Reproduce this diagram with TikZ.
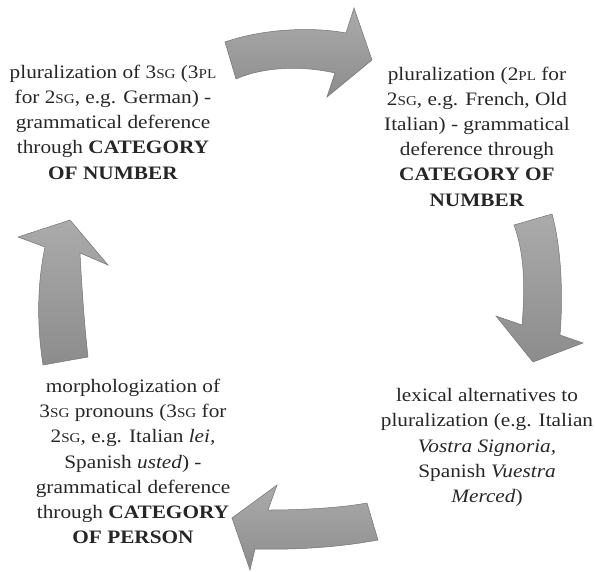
\documentclass[tikz,border=0pt]{standalone}
\usepackage{fontspec}
\setmainfont{Liberation Serif}[FakeStretch=1.12]
\newcommand\smcp[1]{{\fontsize{13.5}{12}\selectfont #1}}
\begin{document}
\begin{tikzpicture}[x=1pt,y=-1pt,
  lbl/.style={align=center,text=black!85,font=\fontsize{19}{25.2}\selectfont,inner sep=0pt},
  bigarrow/.style={draw=black!55,line width=0.5pt,top color=black!33,bottom color=black!45,line join=miter}]
\useasboundingbox (0,0) rectangle (595,571);
% arrows
\path[bigarrow] (225,42) .. controls (265,28) and (315,27) .. (346,33)
  -- (354,8) -- (372,60) -- (327,97) -- (335,73)
  .. controls (305,66) and (265,66) .. (236,79) -- cycle;
\path[bigarrow] (514,225) -- (552,214) .. controls (562,250) and (563,300) .. (560,335)
  -- (583,343) -- (533,362) -- (496,316) -- (522,325)
  .. controls (525,290) and (525,255) .. (514,225) -- cycle;
\path[bigarrow] (367,503) -- (378,540) .. controls (340,547) and (300,550) .. (255,549)
  -- (250,570) -- (232,518) -- (277,485) -- (268,510)
  .. controls (300,510) and (340,508) .. (367,503) -- cycle;
\path[bigarrow] (88,357) -- (43,365) .. controls (36,320) and (38,280) .. (45,247)
  -- (18,237) -- (70,220) -- (108,265) -- (80,253)
  .. controls (82,290) and (84,320) .. (88,357) -- cycle;
% texts
\node[lbl] (t1) at (113,122) {pluralization of 3\smcp{SG} (3\smcp{PL}\\for 2\smcp{SG}, e.g. German) -\\grammatical deference\\through \textbf{CATEGORY}\\\textbf{OF NUMBER}};
\node[lbl] (t2) at (477,136.5) {pluralization (2\smcp{PL} for\\2\smcp{SG}, e.g. French, Old\\Italian) - grammatical\\deference through\\\textbf{CATEGORY OF}\\\textbf{NUMBER}};
\node[lbl] (t3) at (133,461.5) {morphologization of\\3\smcp{SG} pronouns (3\smcp{SG} for\\2\smcp{SG}, e.g. Italian \textit{lei,}\\Spanish \textit{usted}) -\\grammatical deference\\through \textbf{CATEGORY}\\\textbf{OF PERSON}};
\node[lbl] (t4) at (487,447.5) {lexical alternatives to\\pluralization (e.g. Italian\\\textit{Vostra Signoria,}\\Spanish \textit{Vuestra}\\\textit{Merced})};
\end{tikzpicture}
\end{document}
